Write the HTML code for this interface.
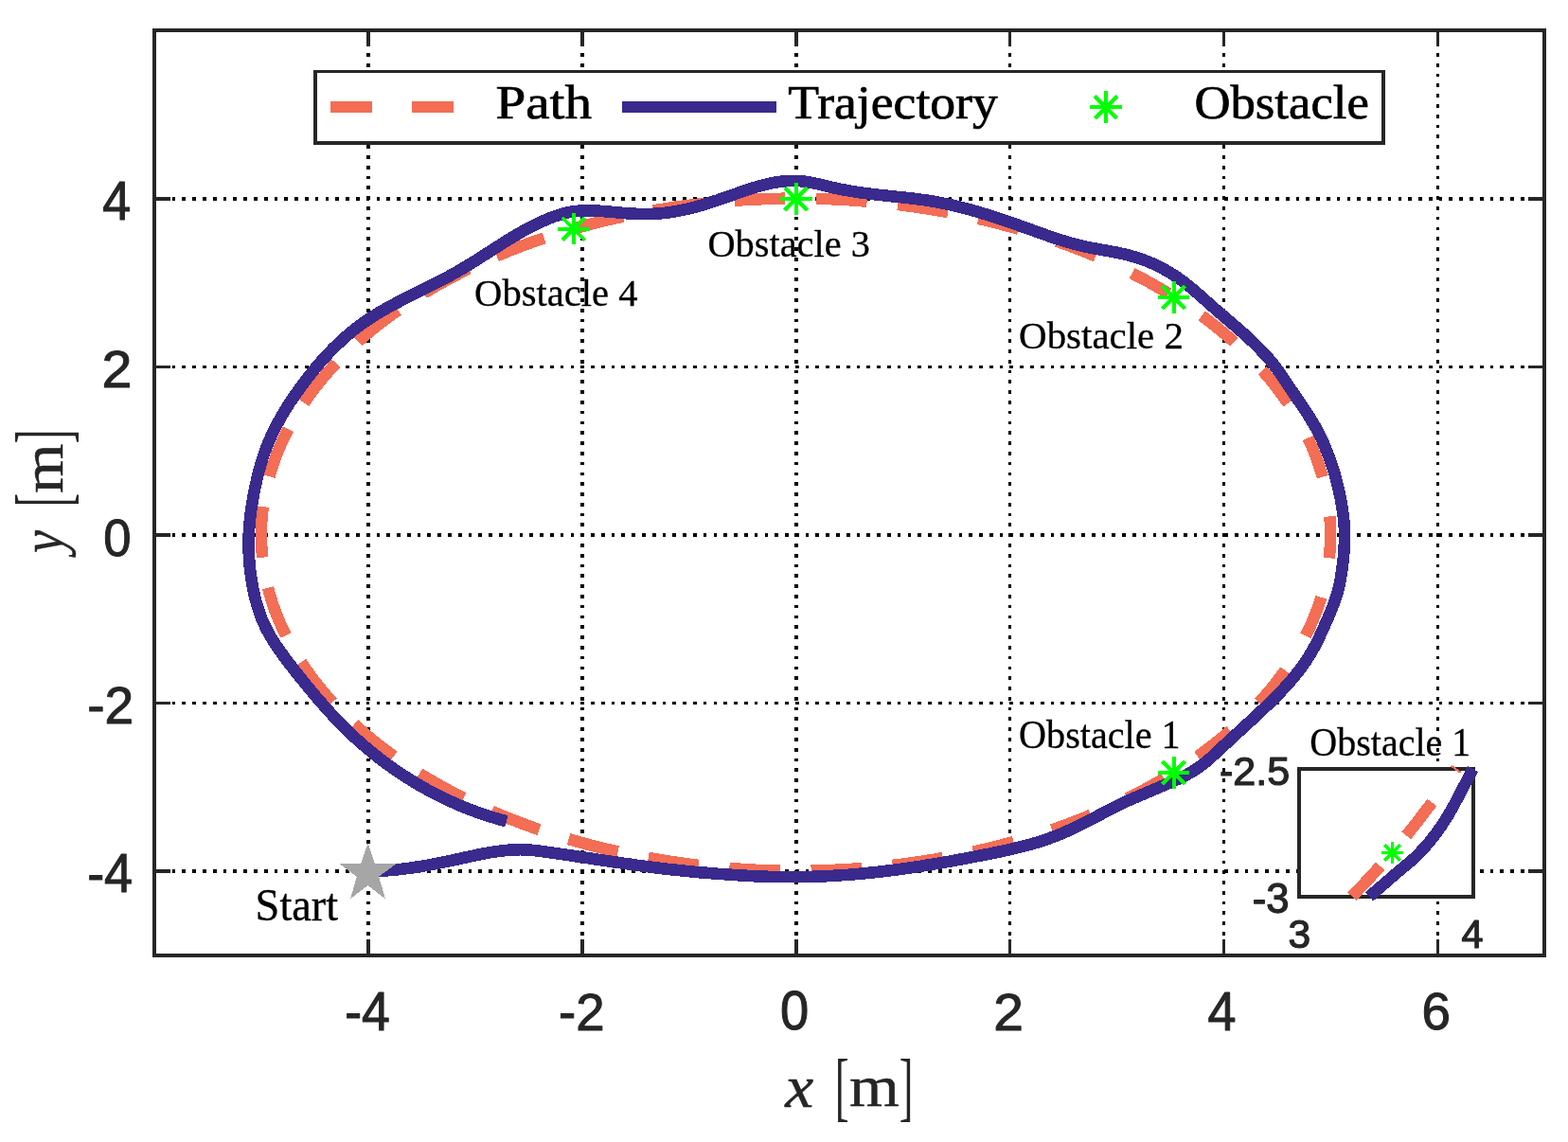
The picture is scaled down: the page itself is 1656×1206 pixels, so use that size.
<!DOCTYPE html>
<html lang="en"><head><meta charset="utf-8"><title>Path and trajectory with obstacles</title>
<style>html,body{margin:0;padding:0;background:#fff}body{width:1656px;height:1206px;overflow:hidden}svg{display:block}</style>
</head><body>
<svg width="1656" height="1206" viewBox="0 0 1656 1206" role="img" aria-label="Path, trajectory and obstacles plot">
<rect width="1656" height="1206" fill="#fff"/>
<defs><clipPath id="axclip"><rect x="163" y="32" width="1468" height="976.47"/></clipPath>
<clipPath id="inclip"><rect x="1360" y="800" width="210" height="160"/></clipPath></defs>
<g stroke="#000" fill="none" shape-rendering="crispEdges">
<path d="M389 34.53V1009" stroke-width="4" stroke-dasharray="3.7 7.09"/>
<path d="M615 34.53V1009" stroke-width="4" stroke-dasharray="3.7 7.09"/>
<path d="M841 34.53V1009" stroke-width="4" stroke-dasharray="3.7 7.09"/>
<path d="M1066.5 34.53V1009" stroke-width="3" stroke-dasharray="3.7 7.09"/>
<path d="M1292.5 34.53V1009" stroke-width="3" stroke-dasharray="3.7 7.09"/>
<path d="M1518.5 34.53V1009" stroke-width="3" stroke-dasharray="3.7 7.09"/>
<path d="M170.91 210H1631" stroke-width="4" stroke-dasharray="3.7 7.09"/>
<path d="M170.91 387.5H1631" stroke-width="3" stroke-dasharray="3.7 7.09"/>
<path d="M170.91 565H1631" stroke-width="4" stroke-dasharray="3.7 7.09"/>
<path d="M170.91 742.5H1631" stroke-width="3" stroke-dasharray="3.7 7.09"/>
<path d="M170.91 920H1631" stroke-width="4" stroke-dasharray="3.7 7.09"/>
</g>
<g fill="#262626" shape-rendering="crispEdges">
<rect x="387" y="992.3" width="4" height="16.7" fill="#262626"/>
<rect x="387" y="32" width="4" height="16.7" fill="#262626"/>
<rect x="613" y="992.3" width="4" height="16.7" fill="#262626"/>
<rect x="613" y="32" width="4" height="16.7" fill="#262626"/>
<rect x="839" y="992.3" width="4" height="16.7" fill="#262626"/>
<rect x="839" y="32" width="4" height="16.7" fill="#262626"/>
<rect x="1065" y="992.3" width="3" height="16.7" fill="#262626"/>
<rect x="1065" y="32" width="3" height="16.7" fill="#262626"/>
<rect x="1291" y="992.3" width="3" height="16.7" fill="#262626"/>
<rect x="1291" y="32" width="3" height="16.7" fill="#262626"/>
<rect x="1517" y="992.3" width="3" height="16.7" fill="#262626"/>
<rect x="1517" y="32" width="3" height="16.7" fill="#262626"/>
<rect x="163" y="208" width="16.7" height="4" fill="#262626"/>
<rect x="1614.3" y="208" width="16.7" height="4" fill="#262626"/>
<rect x="163" y="386" width="16.7" height="3" fill="#262626"/>
<rect x="1614.3" y="386" width="16.7" height="3" fill="#262626"/>
<rect x="163" y="563" width="16.7" height="4" fill="#262626"/>
<rect x="1614.3" y="563" width="16.7" height="4" fill="#262626"/>
<rect x="163" y="741" width="16.7" height="3" fill="#262626"/>
<rect x="1614.3" y="741" width="16.7" height="3" fill="#262626"/>
<rect x="163" y="918" width="16.7" height="4" fill="#262626"/>
<rect x="1614.3" y="918" width="16.7" height="4" fill="#262626"/>
</g>
<g clip-path="url(#axclip)" shape-rendering="crispEdges">
<path d="M1001.2 224.2L997.2 223.5L993.3 222.8L989.4 222.1L985.4 221.4L981.5 220.8L977.5 220.1L973.6 219.5L969.6 218.9L965.7 218.4L961.7 217.8L957.7 217.3M915.6 212.7L911.6 212.4L907.6 212.1L903.6 211.8L899.7 211.5L895.7 211.2L891.7 211.0L887.7 210.8L883.7 210.6L879.7 210.4L875.7 210.2L871.7 210.1M829.3 209.6L825.3 209.7L821.3 209.7L817.3 209.8L813.3 210.0L809.3 210.1L805.3 210.2L801.3 210.4L797.3 210.6L793.4 210.8L789.4 211.0L785.4 211.2M743.2 214.9L739.2 215.3L735.2 215.8L731.2 216.3L727.3 216.8L723.3 217.3L719.3 217.8L715.4 218.4L711.4 218.9L707.5 219.5L703.5 220.2L699.6 220.8M657.9 228.6L654.0 229.5L650.1 230.3L646.2 231.2L642.3 232.1L638.4 233.1L634.5 234.0L630.7 235.0L626.8 236.0L622.9 237.0L619.0 238.0L615.2 239.0M574.7 251.4L571.2 252.6L567.7 253.7L564.3 255.0L560.8 256.2L557.3 257.4L553.9 258.7L550.5 260.0L547.0 261.3L543.6 262.6L540.2 263.9L536.8 265.3L533.4 266.7M494.7 283.9L491.1 285.7L487.6 287.5L484.0 289.3L480.4 291.1L476.9 293.0L473.4 294.9L469.8 296.8L466.3 298.7L462.9 300.7L459.4 302.7L455.9 304.7M420.3 327.5L417.0 329.8L413.7 332.2L410.5 334.5L407.3 336.9L404.1 339.3L401.0 341.8L397.8 344.3L394.7 346.8L391.6 349.3L388.5 351.8L385.5 354.4M354.8 383.6L352.1 386.5L349.4 389.5L346.7 392.5L344.1 395.5L341.5 398.5L338.9 401.6L336.4 404.7L333.9 407.9L331.5 411.0L329.1 414.2L326.7 417.5M304.3 453.4L302.5 457.0L300.7 460.5L299.0 464.1L297.3 467.8L295.7 471.4L294.2 475.1L292.7 478.8L291.2 482.6L289.8 486.3L288.5 490.1L287.2 493.9M277.9 535.1L277.4 539.1L277.0 543.1L276.6 547.1L276.3 551.1L276.1 555.1L276.0 559.1L275.9 563.1L275.9 567.1L276.0 571.1L276.2 575.1L276.4 579.0M283.0 620.8L284.1 624.7L285.1 628.5L286.3 632.4L287.5 636.2L288.8 640.0L290.1 643.8L291.5 647.5L293.0 651.2L294.5 654.9L296.1 658.6L297.7 662.3M318.1 699.3L320.3 702.7L322.6 706.0L324.9 709.2L327.2 712.5L329.6 715.7L332.0 718.9L334.5 722.1L337.0 725.2L339.5 728.3L342.0 731.4L344.6 734.4M374.2 764.8L377.1 767.5L380.1 770.1L383.1 772.8L386.1 775.4L389.2 778.0L392.3 780.5L395.4 783.0L398.5 785.5L401.6 788.0L404.8 790.4L408.0 792.9M443.0 816.8L446.4 818.9L449.8 820.9L453.2 823.0L456.7 825.0L460.1 827.0L463.6 829.0L467.1 830.9L470.6 832.9L474.1 834.8L477.7 836.7L481.2 838.5M519.5 856.7L523.1 858.3L526.8 859.8L530.5 861.4L534.2 862.9L537.9 864.4L541.6 865.9L545.4 867.3L549.1 868.7L552.9 870.2L556.6 871.5L560.4 872.9M600.6 886.1L604.5 887.2L608.3 888.3L612.2 889.4L616.0 890.4L619.9 891.5L623.8 892.5L627.6 893.5L631.5 894.5L635.4 895.4L639.3 896.4L643.2 897.3M684.7 905.9L688.6 906.6L692.5 907.3L696.5 907.9L700.4 908.6L704.4 909.2L708.3 909.8L712.3 910.4L716.2 911.0L720.2 911.5L724.2 912.1L728.1 912.6M770.3 916.9L774.3 917.2L778.3 917.5L782.2 917.8L786.2 918.1L790.2 918.3L794.2 918.5L798.2 918.7L802.2 918.9L806.2 919.0L810.2 919.2L814.2 919.3M856.6 919.6L860.6 919.5L864.6 919.4L868.6 919.3L872.6 919.1L876.6 919.0L880.6 918.8L884.6 918.6L888.6 918.4L892.5 918.2L896.5 917.9L900.5 917.7M942.7 913.8L946.7 913.4L950.7 912.9L954.6 912.4L958.6 911.9L962.6 911.3L966.5 910.7L970.5 910.2L974.4 909.6L978.4 909.0L982.3 908.3L986.3 907.7M1027.9 899.6L1031.8 898.7L1035.7 897.8L1039.6 896.9L1043.5 896.0L1047.3 895.0L1051.2 894.1L1055.1 893.1L1059.0 892.1L1062.8 891.0L1066.7 890.0L1070.5 888.9M1111.0 876.3L1114.8 875.0L1118.5 873.7L1122.3 872.3L1126.1 870.9L1129.8 869.6L1133.6 868.1L1137.3 866.7L1141.0 865.2L1144.7 863.8L1148.4 862.3L1152.1 860.7M1190.7 843.2L1194.3 841.4L1197.8 839.6L1201.4 837.7L1204.9 835.9L1208.4 834.0L1212.0 832.1L1215.5 830.1L1218.9 828.2L1222.4 826.2L1225.9 824.2L1229.3 822.1M1264.8 798.9L1268.0 796.6L1271.2 794.2L1274.4 791.8L1277.6 789.4L1280.8 787.0L1283.9 784.5L1287.0 782.0L1290.1 779.4L1293.2 776.9L1296.2 774.3L1299.3 771.6M1329.6 742.1L1332.3 739.1L1334.9 736.1L1337.5 733.1L1340.1 730.1L1342.7 727.0L1345.2 723.9L1347.7 720.7L1350.1 717.5L1352.5 714.3L1354.9 711.1L1357.2 707.9M1378.9 671.5L1380.7 668.0L1382.4 664.3L1384.1 660.7L1385.7 657.0L1387.2 653.4L1388.7 649.6L1390.2 645.9L1391.5 642.2L1392.8 638.4L1394.1 634.6L1395.3 630.8M1403.8 589.3L1404.2 585.3L1404.5 581.3L1404.8 577.3L1405.0 573.4L1405.1 569.4L1405.2 565.4L1405.1 561.4L1405.0 557.4L1404.9 553.4L1404.6 549.4L1404.3 545.4M1396.8 503.7L1395.7 499.9L1394.5 496.1L1393.3 492.3L1392.0 488.5L1390.7 484.7L1389.3 481.0L1387.8 477.2L1386.3 473.5L1384.7 469.9L1383.0 466.2L1381.3 462.6M1360.3 425.9L1358.0 422.6L1355.7 419.3L1353.4 416.1L1351.0 412.9L1348.6 409.7L1346.1 406.5L1343.6 403.4L1341.1 400.3L1338.5 397.3L1335.9 394.2L1333.2 391.2M1303.3 361.2L1300.4 358.6L1297.3 355.9L1294.3 353.3L1291.3 350.8L1288.2 348.2L1285.1 345.7L1281.9 343.2L1278.8 340.7L1275.6 338.3L1272.4 335.9L1269.2 333.5M1234.0 310.0L1230.6 307.9L1227.1 305.8L1223.7 303.8L1220.2 301.8L1216.7 299.8L1213.2 297.9L1209.7 296.0L1206.2 294.1L1202.7 292.2L1199.1 290.4L1195.6 288.5M1157.2 270.6L1153.5 269.1L1149.8 267.5L1146.1 266.0L1142.4 264.5L1138.7 263.1L1134.9 261.6L1131.2 260.2L1127.4 258.8L1123.7 257.4L1119.9 256.1L1116.2 254.7M1075.8 241.8L1072.0 240.7L1068.1 239.7L1064.3 238.6L1060.4 237.6L1056.5 236.5L1052.6 235.5L1048.8 234.6L1044.9 233.6L1041.0 232.7L1037.1 231.8L1033.2 230.9M991.7 222.5L987.7 221.8L983.8 221.2L979.8 220.5L975.9 219.9L971.9 219.3L968.0 218.7L964.0 218.1L960.1 217.6L956.1 217.1L952.1 216.5L948.2 216.0M906.0 211.9L902.0 211.6L898.0 211.4L894.0 211.1L890.0 210.9L886.0 210.7L882.0 210.5L878.0 210.3L874.0 210.2L870.0 210.0L866.0 209.9L862.0 209.8M819.7 209.8L815.7 209.9L811.7 210.0L807.7 210.1L803.7 210.3L799.7 210.5L795.7 210.7L791.7 210.9L787.7 211.1L783.7 211.3L779.7 211.6L775.7 211.9M733.6 216.0L729.6 216.5L725.6 217.0L721.7 217.5L717.7 218.0L713.7 218.6L709.8 219.2L705.8 219.8L701.9 220.4L697.9 221.1L694.0 221.7L690.0 222.4M648.5 230.7L644.6 231.6L640.7 232.5L636.8 233.5L632.9 234.4L629.1 235.4L625.2 236.4L621.3 237.4L617.4 238.4L613.6 239.5L609.7 240.6L605.9 241.7M565.5 254.5L561.8 255.8L558.0 257.2L554.2 258.6L550.5 260.0L546.7 261.4L543.0 262.8L539.3 264.3L535.6 265.8L531.9 267.3L528.2 268.8L524.5 270.4M486.1 288.2L482.5 290.1L479.0 291.9L475.4 293.8L471.9 295.7L468.4 297.6L464.9 299.5L461.4 301.5L457.9 303.5L454.5 305.5L451.1 307.5L447.6 309.6M412.4 333.1L409.2 335.5L406.0 337.9L402.8 340.3L399.7 342.8L396.5 345.3L393.4 347.8L390.3 350.3L387.3 352.9L384.2 355.5L381.2 358.1L378.2 360.8M348.3 390.7L345.6 393.7L343.0 396.8L340.4 399.8L337.9 402.9L335.4 406.0L332.9 409.2L330.5 412.4L328.1 415.6L325.7 418.8L323.4 422.1L321.2 425.4M300.0 462.0L298.3 465.6L296.7 469.3L295.1 473.0L293.5 476.7L292.0 480.4L290.6 484.1L289.3 487.9L288.0 491.7L286.7 495.5L285.6 499.3L284.5 503.1M276.8 544.7L276.5 548.7L276.2 552.7L276.1 556.7L276.0 560.7L275.9 564.7L276.0 568.7L276.1 572.7L276.3 576.7L276.5 580.7L276.8 584.7L277.2 588.7M285.6 630.1L286.8 634.0L288.0 637.8L289.3 641.5L290.7 645.3L292.1 649.0L293.6 652.8L295.1 656.5L296.7 660.1L298.4 663.8L300.1 667.4L301.8 671.0M323.5 707.3L325.8 710.6L328.2 713.8L330.6 717.0L333.0 720.2L335.5 723.4L338.0 726.5L340.5 729.6L343.1 732.6L345.7 735.6L348.4 738.6L351.1 741.6M381.3 771.2L384.4 773.8L387.4 776.4L390.5 779.0L393.6 781.6L396.7 784.1L399.8 786.6L403.0 789.0L406.1 791.4L409.3 793.8L412.6 796.2L415.8 798.6M451.2 821.8L454.7 823.8L458.1 825.8L461.6 827.8L465.1 829.8L468.6 831.7L472.1 833.7L475.6 835.6L479.1 837.4L482.7 839.3L486.2 841.1L489.8 842.9M528.3 860.5L532.0 862.0L535.7 863.5L539.5 865.0L543.2 866.5L546.9 867.9L550.7 869.3L554.4 870.7L558.2 872.1L561.9 873.5L565.7 874.8L569.5 876.1M609.9 888.7L613.8 889.8L617.6 890.9L621.5 891.9L625.4 892.9L629.2 893.9L633.1 894.9L637.0 895.8L640.9 896.8L644.8 897.7L648.7 898.6L652.6 899.4M694.2 907.6L698.1 908.2L702.1 908.9L706.0 909.5L710.0 910.1L713.9 910.7L717.9 911.2L721.8 911.8L725.8 912.3L729.8 912.8L733.7 913.3L737.7 913.8M779.9 917.6L783.9 917.9L787.9 918.2L791.9 918.4L795.9 918.6L799.9 918.8L803.9 919.0L807.9 919.1L811.9 919.2L815.9 919.4L819.9 919.5L823.9 919.5M866.2 919.3L870.2 919.2L874.2 919.1L878.2 918.9L882.2 918.7L886.2 918.5L890.2 918.3L894.2 918.1L898.2 917.8L902.2 917.6L906.2 917.3L910.2 917.0M952.3 912.7L956.3 912.2L960.2 911.6L964.2 911.1L968.2 910.5L972.1 909.9L976.1 909.3L980.0 908.7L984.0 908.1L987.9 907.4L991.9 906.7L995.8 906.0" stroke="#F46D55" stroke-width="12.4" fill="none"/>
<path d="M388.5 920.0L393.8 920.0L399.1 919.8L404.4 919.6L409.7 919.2L414.9 918.8L420.1 918.3L425.3 917.7L430.5 917.0L435.7 916.3L440.9 915.5L446.0 914.7L451.2 913.8L456.3 912.8L461.5 911.8L466.6 910.8L471.8 909.8L476.9 908.7L482.1 907.6L487.2 906.5L492.4 905.3L497.6 904.2L502.7 903.1L507.9 902.0L513.1 901.0L518.3 900.1L523.6 899.3L528.8 898.6L534.0 898.0L539.2 897.5L544.4 897.3L549.6 897.2L554.9 897.3L560.1 897.7L565.3 898.2L570.5 898.8L575.7 899.5L580.9 900.3L586.1 901.0L591.3 901.8L596.5 902.5L601.7 903.3L606.9 904.1L612.1 904.9L617.3 905.6L622.5 906.4L627.7 907.2L632.9 908.0L638.1 908.8L643.3 909.5L648.5 910.3L653.7 911.0L658.9 911.8L664.1 912.5L669.3 913.3L674.5 914.0L679.7 914.7L684.9 915.3L690.2 916.0L695.4 916.7L700.6 917.3L705.8 917.9L711.0 918.5L716.2 919.0L721.5 919.6L726.7 920.1L731.9 920.6L737.2 921.1L742.4 921.5L747.6 921.9L752.9 922.4L758.1 922.8L763.3 923.1L768.6 923.5L773.8 923.9L779.1 924.2L784.3 924.5L789.6 924.9L794.8 925.1L800.0 925.4L805.3 925.6L810.5 925.8L815.8 925.9L821.0 926.1L826.3 926.1L831.5 926.2L836.8 926.2L842.1 926.1L847.3 926.1L852.6 926.0L857.8 925.8L863.1 925.6L868.3 925.4L873.6 925.2L878.8 924.9L884.1 924.6L889.3 924.2L894.6 923.9L899.8 923.5L905.1 923.0L910.3 922.5L915.5 922.0L920.8 921.5L926.0 921.0L931.2 920.4L936.4 919.7L941.6 919.1L946.8 918.4L952.0 917.7L957.2 917.0L962.4 916.2L967.6 915.5L972.8 914.7L978.0 913.8L983.2 913.0L988.4 912.1L993.5 911.3L998.7 910.4L1003.9 909.5L1009.1 908.5L1014.2 907.6L1019.4 906.6L1024.6 905.6L1029.7 904.6L1034.9 903.6L1040.1 902.6L1045.2 901.6L1050.4 900.5L1055.6 899.5L1060.7 898.4L1065.9 897.2L1071.0 896.1L1076.1 894.8L1081.2 893.5L1086.3 892.2L1091.3 890.8L1096.4 889.3L1101.4 887.7L1106.3 886.0L1111.2 884.2L1116.1 882.3L1121.0 880.4L1125.8 878.3L1130.6 876.1L1135.3 873.9L1140.0 871.5L1144.8 869.2L1149.4 866.8L1154.1 864.4L1158.8 861.9L1163.5 859.5L1168.2 857.0L1172.8 854.6L1177.5 852.2L1182.3 849.9L1187.0 847.6L1191.7 845.4L1196.5 843.3L1201.3 841.2L1206.1 839.2L1211.0 837.1L1215.8 835.1L1220.6 833.0L1225.4 830.9L1230.3 828.8L1235.1 826.7L1240.0 824.6L1244.8 822.4L1249.5 820.1L1254.2 817.7L1258.7 815.1L1263.2 812.3L1267.4 809.3L1271.6 806.2L1275.7 802.9L1279.6 799.4L1283.4 795.8L1287.3 792.2L1291.1 788.6L1295.0 785.1L1298.8 781.5L1302.7 777.9L1306.5 774.4L1310.4 770.9L1314.2 767.3L1318.1 763.8L1322.0 760.2L1325.8 756.6L1329.6 753.1L1333.5 749.4L1337.3 745.8L1341.1 742.2L1344.9 738.5L1348.6 734.7L1352.3 730.9L1355.9 727.1L1359.4 723.2L1362.9 719.3L1366.3 715.3L1369.6 711.2L1372.8 707.1L1375.9 702.9L1378.9 698.6L1381.8 694.2L1384.5 689.7L1387.1 685.2L1389.6 680.5L1392.0 675.8L1394.2 671.1L1396.5 666.3L1398.6 661.5L1400.8 656.6L1402.9 651.8L1404.9 647.0L1406.9 642.1L1408.8 637.3L1410.5 632.3L1412.1 627.4L1413.5 622.3L1414.6 617.2L1415.7 612.0L1416.5 606.9L1417.3 601.6L1418.0 596.4L1418.6 591.2L1419.1 585.9L1419.5 580.7L1419.8 575.4L1420.0 570.2L1420.1 565.0L1420.0 559.7L1419.7 554.5L1419.2 549.3L1418.6 544.1L1417.9 538.9L1417.1 533.7L1416.2 528.5L1415.1 523.4L1414.1 518.2L1412.9 513.1L1411.6 508.0L1410.2 502.9L1408.8 497.8L1407.2 492.8L1405.5 487.9L1403.8 482.9L1401.9 478.0L1399.9 473.2L1397.9 468.3L1395.7 463.6L1393.4 458.9L1391.0 454.2L1388.5 449.6L1385.8 445.1L1383.1 440.6L1380.3 436.2L1377.4 431.8L1374.4 427.4L1371.5 423.1L1368.5 418.7L1365.5 414.3L1362.5 410.0L1359.6 405.6L1356.7 401.2L1353.7 396.8L1350.7 392.5L1347.6 388.3L1344.4 384.1L1341.1 380.1L1337.7 376.1L1334.1 372.3L1330.5 368.5L1326.8 364.8L1323.1 361.1L1319.3 357.6L1315.4 354.0L1311.5 350.5L1307.5 347.0L1303.5 343.6L1299.5 340.1L1295.5 336.7L1291.5 333.3L1287.5 329.8L1283.5 326.4L1279.6 322.9L1275.6 319.4L1271.7 315.9L1267.8 312.4L1263.8 308.9L1259.8 305.5L1255.8 302.2L1251.7 299.0L1247.5 295.8L1243.2 292.8L1238.8 289.9L1234.4 287.2L1229.8 284.6L1225.1 282.1L1220.4 279.8L1215.6 277.6L1210.8 275.6L1205.8 273.8L1200.8 272.1L1195.8 270.6L1190.7 269.2L1185.6 268.0L1180.5 266.9L1175.3 265.9L1170.1 265.0L1165.0 264.1L1159.8 263.1L1154.6 262.2L1149.4 261.2L1144.3 260.1L1139.2 258.9L1134.1 257.5L1129.1 256.1L1124.1 254.6L1119.1 253.1L1114.1 251.4L1109.1 249.8L1104.1 248.0L1099.2 246.3L1094.2 244.5L1089.3 242.7L1084.3 241.0L1079.3 239.2L1074.4 237.4L1069.4 235.7L1064.4 234.0L1059.4 232.3L1054.5 230.6L1049.5 229.0L1044.4 227.4L1039.4 225.8L1034.4 224.3L1029.4 222.8L1024.3 221.4L1019.2 220.0L1014.2 218.7L1009.1 217.5L1003.9 216.3L998.8 215.2L993.7 214.2L988.5 213.2L983.3 212.3L978.1 211.5L972.9 210.8L967.7 210.1L962.5 209.5L957.2 208.9L952.0 208.3L946.8 207.8L941.5 207.2L936.3 206.7L931.1 206.1L925.9 205.6L920.7 204.9L915.6 204.3L910.4 203.6L905.3 202.9L900.2 202.0L895.0 201.2L889.9 200.2L884.7 199.2L879.5 198.1L874.3 196.9L869.1 195.6L863.9 194.3L858.6 193.2L853.4 192.2L848.1 191.4L842.9 191.0L837.7 190.9L832.6 191.0L827.4 191.4L822.3 192.1L817.2 192.9L812.1 194.0L807.0 195.2L801.9 196.5L796.9 198.0L791.8 199.6L786.8 201.3L781.7 203.0L776.7 204.8L771.7 206.6L766.7 208.3L761.6 210.1L756.6 211.8L751.6 213.4L746.6 215.0L741.6 216.5L736.6 218.0L731.5 219.3L726.5 220.6L721.4 221.7L716.3 222.7L711.2 223.6L706.0 224.4L700.9 225.0L695.7 225.5L690.4 225.8L685.2 226.0L679.9 226.0L674.6 225.9L669.3 225.7L664.0 225.4L658.7 225.0L653.4 224.5L648.0 224.0L642.7 223.6L637.4 223.1L632.1 222.7L626.8 222.5L621.6 222.3L616.3 222.4L611.1 222.7L606.0 223.3L600.9 224.1L595.8 225.3L590.8 226.8L585.8 228.4L580.9 230.3L576.0 232.3L571.2 234.4L566.5 236.7L561.8 239.0L557.2 241.4L552.6 243.9L548.1 246.5L543.6 249.2L539.1 251.9L534.6 254.6L530.2 257.4L525.7 260.2L521.3 263.0L516.9 265.9L512.5 268.7L508.0 271.5L503.6 274.4L499.1 277.2L494.6 279.9L490.1 282.7L485.6 285.3L481.0 288.0L476.4 290.5L471.8 293.0L467.1 295.5L462.4 297.9L457.7 300.3L453.0 302.7L448.2 305.0L443.5 307.4L438.7 309.7L434.0 312.1L429.3 314.4L424.6 316.8L419.9 319.3L415.3 321.7L410.7 324.2L406.1 326.8L401.6 329.4L397.1 332.1L392.7 334.9L388.3 337.8L384.0 340.7L379.8 343.8L375.6 346.9L371.5 350.2L367.5 353.6L363.6 357.0L359.7 360.5L355.9 364.1L352.1 367.8L348.4 371.6L344.8 375.4L341.3 379.3L337.8 383.3L334.3 387.3L331.0 391.4L327.7 395.5L324.4 399.7L321.2 403.9L318.1 408.1L315.0 412.4L311.9 416.7L309.0 421.1L306.0 425.4L303.2 429.8L300.4 434.3L297.8 438.8L295.2 443.3L292.7 447.9L290.3 452.5L288.0 457.2L285.8 461.9L283.7 466.7L281.7 471.5L279.9 476.4L278.2 481.4L276.6 486.4L275.1 491.5L273.7 496.5L272.4 501.7L271.2 506.8L270.0 512.0L268.9 517.2L267.9 522.3L267.0 527.5L266.1 532.7L265.3 537.9L264.6 543.1L264.0 548.3L263.5 553.5L263.1 558.7L262.8 563.9L262.6 569.1L262.6 574.4L262.6 579.6L262.8 584.9L263.1 590.1L263.5 595.3L264.0 600.6L264.7 605.8L265.4 611.0L266.3 616.2L267.2 621.4L268.3 626.6L269.5 631.8L270.9 636.9L272.4 641.9L274.0 646.9L275.8 651.8L277.8 656.7L280.0 661.4L282.3 666.1L284.8 670.7L287.5 675.2L290.3 679.6L293.2 683.9L296.2 688.2L299.3 692.4L302.4 696.6L305.6 700.8L308.8 705.0L312.1 709.2L315.4 713.3L318.7 717.4L322.0 721.5L325.3 725.6L328.7 729.6L332.1 733.7L335.5 737.7L338.9 741.6L342.4 745.6L345.9 749.5L349.4 753.4L352.9 757.3L356.5 761.1L360.2 764.8L363.9 768.5L367.6 772.2L371.4 775.8L375.3 779.4L379.2 782.9L383.1 786.4L387.1 789.8L391.2 793.2L395.2 796.5L399.4 799.8L403.5 803.0L407.7 806.1L412.0 809.2L416.3 812.3L420.6 815.2L425.0 818.2L429.4 821.0L433.9 823.8L438.4 826.6L442.9 829.2L447.5 831.8L452.1 834.4L456.7 836.9L461.4 839.3L466.1 841.7L470.8 844.0L475.6 846.2L480.4 848.3L485.2 850.4L490.0 852.4L494.9 854.4L499.8 856.2L504.8 858.0L509.7 859.8L514.7 861.4L519.7 863.0L524.8 864.5L529.8 865.9L534.9 867.3" stroke="#3A2A8D" stroke-width="12.6" fill="none" stroke-linejoin="round"/>
<path d="M1222.8 816L1256.4 816M1227.72 804.12L1251.48 827.88M1239.6 799.2L1239.6 832.8M1251.48 804.12L1227.72 827.88" stroke="#00FF00" stroke-width="4" fill="none"/>
<path d="M1222.8 314L1256.4 314M1227.72 302.12L1251.48 325.88M1239.6 297.2L1239.6 330.8M1251.48 302.12L1227.72 325.88" stroke="#00FF00" stroke-width="4" fill="none"/>
<path d="M823.9 210.1L857.5 210.1M828.82 198.22L852.58 221.98M840.7 193.3L840.7 226.9M852.58 198.22L828.82 221.98" stroke="#00FF00" stroke-width="4" fill="none"/>
<path d="M588.9 241.6L622.5 241.6M593.82 229.72L617.58 253.48M605.7 224.8L605.7 258.4M617.58 229.72L593.82 253.48" stroke="#00FF00" stroke-width="4" fill="none"/>
<polygon points="388.6,890.3 395.8,912.2 418.3,912.2 400.1,925.8 407,949.3 388.5,935 370,949.3 376.9,925.8 358.7,912.2 381.2,912.2" fill="#A6A6A6"/>
</g>
<g fill="#262626" shape-rendering="crispEdges">
<rect x="161" y="30" width="4" height="981" fill="#262626"/>
<rect x="1629" y="30" width="4" height="981" fill="#262626"/>
<rect x="161" y="30" width="1472" height="4" fill="#262626"/>
<rect x="161" y="1007" width="1472" height="4" fill="#262626"/>
</g>
<text font-family='"Liberation Serif", "Times New Roman", Times, serif' fill="#262626" xml:space="preserve"><tspan x="829.25" y="1168.75" font-size="64.43" textLength="29.93" lengthAdjust="spacingAndGlyphs" font-style="italic" stroke="#262626" stroke-width="0.5" stroke-linejoin="round">x</tspan><tspan font-size="30"> </tspan><tspan x="881.65" y="1174.25" font-size="79.64" textLength="14.84" lengthAdjust="spacingAndGlyphs">[</tspan><tspan x="897.00" y="1167.75" font-size="60.84" textLength="52.74" lengthAdjust="spacingAndGlyphs" stroke="#262626" stroke-width="0.5" stroke-linejoin="round">m</tspan><tspan x="949.70" y="1174.25" font-size="79.64" textLength="14.66" lengthAdjust="spacingAndGlyphs">]</tspan></text>
<text transform="rotate(-90)" font-family='"Liberation Serif", "Times New Roman", Times, serif' fill="#262626" xml:space="preserve"><tspan x="-584.05" y="66.10" font-size="63.18" textLength="23.92" lengthAdjust="spacingAndGlyphs" font-style="italic" stroke="#262626" stroke-width="0.5" stroke-linejoin="round">y</tspan><tspan font-size="30"> </tspan><tspan x="-535.25" y="72.15" font-size="79.64" textLength="14.39" lengthAdjust="spacingAndGlyphs">[</tspan><tspan x="-521.00" y="65.65" font-size="60.21" textLength="52.43" lengthAdjust="spacingAndGlyphs" stroke="#262626" stroke-width="0.5" stroke-linejoin="round">m</tspan><tspan x="-468.30" y="72.15" font-size="79.64" textLength="14.66" lengthAdjust="spacingAndGlyphs">]</tspan></text>
<text transform="translate(108.15 231.6) scale(0.9947 1.0497)" font-size="54.17" font-family='"Liberation Sans", Arial, Helvetica, sans-serif' text-anchor="start" fill="#262626" stroke="#262626" stroke-width="1" stroke-linejoin="round">4</text>
<text transform="translate(107.6 408.5) scale(1.0583 1.0077)" font-size="54.17" font-family='"Liberation Sans", Arial, Helvetica, sans-serif' text-anchor="start" fill="#262626" stroke="#262626" stroke-width="1" stroke-linejoin="round">2</text>
<text transform="translate(109.35 586.75) scale(0.9722 1.0393)" font-size="54.17" font-family='"Liberation Sans", Arial, Helvetica, sans-serif' text-anchor="start" fill="#262626" stroke="#262626" stroke-width="1" stroke-linejoin="round">0</text>
<text transform="translate(92.15 764.4) scale(1.0181 1.0256)" font-size="54.17" font-family='"Liberation Sans", Arial, Helvetica, sans-serif' text-anchor="start" fill="#262626" stroke="#262626" stroke-width="1" stroke-linejoin="round">-2</text>
<text transform="translate(92.15 941.5) scale(0.9956 1.0471)" font-size="54.17" font-family='"Liberation Sans", Arial, Helvetica, sans-serif' text-anchor="start" fill="#262626" stroke="#262626" stroke-width="1" stroke-linejoin="round">-4</text>
<text transform="translate(364.25 1087.6) scale(0.9890 1.0484)" font-size="54.17" font-family='"Liberation Sans", Arial, Helvetica, sans-serif' text-anchor="start" fill="#262626" stroke="#262626" stroke-width="1" stroke-linejoin="round">-4</text>
<text transform="translate(590.05 1087.7) scale(1.0079 1.0372)" font-size="54.17" font-family='"Liberation Sans", Arial, Helvetica, sans-serif' text-anchor="start" fill="#262626" stroke="#262626" stroke-width="1" stroke-linejoin="round">-2</text>
<text transform="translate(824 1087.35) scale(1.0019 1.0418)" font-size="54.17" font-family='"Liberation Sans", Arial, Helvetica, sans-serif' text-anchor="start" fill="#262626" stroke="#262626" stroke-width="1" stroke-linejoin="round">0</text>
<text transform="translate(1049.25 1087.6) scale(1.0524 1.0359)" font-size="54.17" font-family='"Liberation Sans", Arial, Helvetica, sans-serif' text-anchor="start" fill="#262626" stroke="#262626" stroke-width="1" stroke-linejoin="round">2</text>
<text transform="translate(1275.55 1087.6) scale(0.9947 1.0484)" font-size="54.17" font-family='"Liberation Sans", Arial, Helvetica, sans-serif' text-anchor="start" fill="#262626" stroke="#262626" stroke-width="1" stroke-linejoin="round">4</text>
<text transform="translate(1501.5 1086.75) scale(1.0116 1.0152)" font-size="54.17" font-family='"Liberation Sans", Arial, Helvetica, sans-serif' text-anchor="start" fill="#262626" stroke="#262626" stroke-width="1" stroke-linejoin="round">6</text>
<text transform="translate(1076.1 790.35) scale(0.9639 0.9934)" font-size="41.67" font-family='"Liberation Serif", "Times New Roman", Times, serif' text-anchor="start" fill="#000" stroke="#000" stroke-width="0.3" stroke-linejoin="round">Obstacle 1</text>
<text transform="translate(1076.1 368.45) scale(0.9824 0.9833)" font-size="41.67" font-family='"Liberation Serif", "Times New Roman", Times, serif' text-anchor="start" fill="#000" stroke="#000" stroke-width="0.3" stroke-linejoin="round">Obstacle 2</text>
<text transform="translate(747.5 271.45) scale(0.9678 0.9800)" font-size="41.67" font-family='"Liberation Serif", "Times New Roman", Times, serif' text-anchor="start" fill="#000" stroke="#000" stroke-width="0.3" stroke-linejoin="round">Obstacle 3</text>
<text transform="translate(501.1 322.75) scale(0.9740 0.9784)" font-size="41.67" font-family='"Liberation Serif", "Times New Roman", Times, serif' text-anchor="start" fill="#000" stroke="#000" stroke-width="0.3" stroke-linejoin="round">Obstacle 4</text>
<text transform="translate(1383.3 797.85) scale(0.9605 0.9934)" font-size="41.67" font-family='"Liberation Serif", "Times New Roman", Times, serif' text-anchor="start" fill="#000" stroke="#000" stroke-width="0.3" stroke-linejoin="round">Obstacle 1</text>
<text transform="translate(269.6 972.45) scale(1.0119 1.0592)" font-size="45.83" font-family='"Liberation Serif", "Times New Roman", Times, serif' text-anchor="start" fill="#000" stroke="#000" stroke-width="0.3" stroke-linejoin="round">Start</text>
<g shape-rendering="crispEdges">
<rect x="331" y="74" width="1132" height="79" fill="#262626"/>
<rect x="335" y="77" width="1124" height="72" fill="#fff"/>
<rect x="349" y="107" width="44" height="12" fill="#F46D55"/>
<rect x="435" y="107" width="44" height="12" fill="#F46D55"/>
<rect x="657" y="107" width="163" height="12" fill="#3A2A8D"/>
</g>
<g shape-rendering="crispEdges">
<path d="M1151.2 113.2L1184.8 113.2M1156.12 101.32L1179.88 125.08M1168 96.4L1168 130M1179.88 101.32L1156.12 125.08" stroke="#00FF00" stroke-width="4" fill="none"/>
</g>
<text transform="translate(523.45 124.5) scale(1.1436 1.0074)" font-size="50" font-family='"Liberation Serif", "Times New Roman", Times, serif' text-anchor="start" fill="#000" stroke="#000" stroke-width="0.7" stroke-linejoin="round">Path</text>
<text transform="translate(832.3 124.5) scale(1.0732 1.0074)" font-size="50" font-family='"Liberation Serif", "Times New Roman", Times, serif' text-anchor="start" fill="#000" stroke="#000" stroke-width="0.7" stroke-linejoin="round">Trajectory</text>
<text transform="translate(1261.45 125.4) scale(1.0544 1.0179)" font-size="50" font-family='"Liberation Serif", "Times New Roman", Times, serif' text-anchor="start" fill="#000" stroke="#000" stroke-width="0.7" stroke-linejoin="round">Obstacle</text>
<g shape-rendering="crispEdges">
<rect x="1370" y="810" width="188" height="139" fill="#262626"/>
<rect x="1374" y="814" width="180" height="131" fill="#fff"/>
</g>
<g clip-path="url(#inclip)" shape-rendering="crispEdges">
<path d="M1427.9 946.8L1442.9 930.8L1457.7 914.7M1485.3 882.4L1499 865.1L1512.3 847.5M1536.9 813.1L1538.2 811.3" stroke="#F46D55" stroke-width="12.4" fill="none"/>
<path d="M1446.2 946.8C1448.9 944.4 1457.3 937.3 1462.6 932.7C1467.9 928.1 1472.8 923.8 1478.0 919.4C1483.2 915.0 1488.9 910.6 1493.6 906.2C1498.3 901.8 1502.5 897.3 1506.4 892.9C1510.3 888.5 1513.7 884.0 1517.0 879.6C1520.3 875.2 1523.3 870.8 1526.1 866.4C1528.9 862.0 1531.5 857.5 1534.0 853.1C1536.5 848.7 1538.7 844.2 1541.0 839.8C1543.3 835.4 1545.6 831.1 1548.0 826.5C1550.4 821.9 1554.3 814.4 1555.6 812.0" stroke="#3A2A8D" stroke-width="12.4" fill="none"/>
<path d="M1459 900.7L1482 900.7M1462.37 892.57L1478.63 908.83M1470.5 889.2L1470.5 912.2M1478.63 892.57L1462.37 908.83" stroke="#00FF00" stroke-width="3.5" fill="none"/>
</g>
<text transform="translate(1287.95 828.75) scale(1.0353 1.0310)" font-size="41.67" font-family='"Liberation Sans", Arial, Helvetica, sans-serif' text-anchor="start" fill="#262626" stroke="#262626" stroke-width="1.2" stroke-linejoin="round">-2.5</text>
<text transform="translate(1322.65 963.75) scale(1.0461 1.0472)" font-size="41.67" font-family='"Liberation Sans", Arial, Helvetica, sans-serif' text-anchor="start" fill="#262626" stroke="#262626" stroke-width="1.2" stroke-linejoin="round">-3</text>
<text transform="translate(1360.6 1000.95) scale(1.0215 1.0228)" font-size="41.67" font-family='"Liberation Sans", Arial, Helvetica, sans-serif' text-anchor="start" fill="#262626" stroke="#262626" stroke-width="1.2" stroke-linejoin="round">3</text>
<text transform="translate(1543.55 1000.85) scale(0.9933 1.0400)" font-size="41.67" font-family='"Liberation Sans", Arial, Helvetica, sans-serif' text-anchor="start" fill="#262626" stroke="#262626" stroke-width="1.2" stroke-linejoin="round">4</text>
</svg>
</body></html>
